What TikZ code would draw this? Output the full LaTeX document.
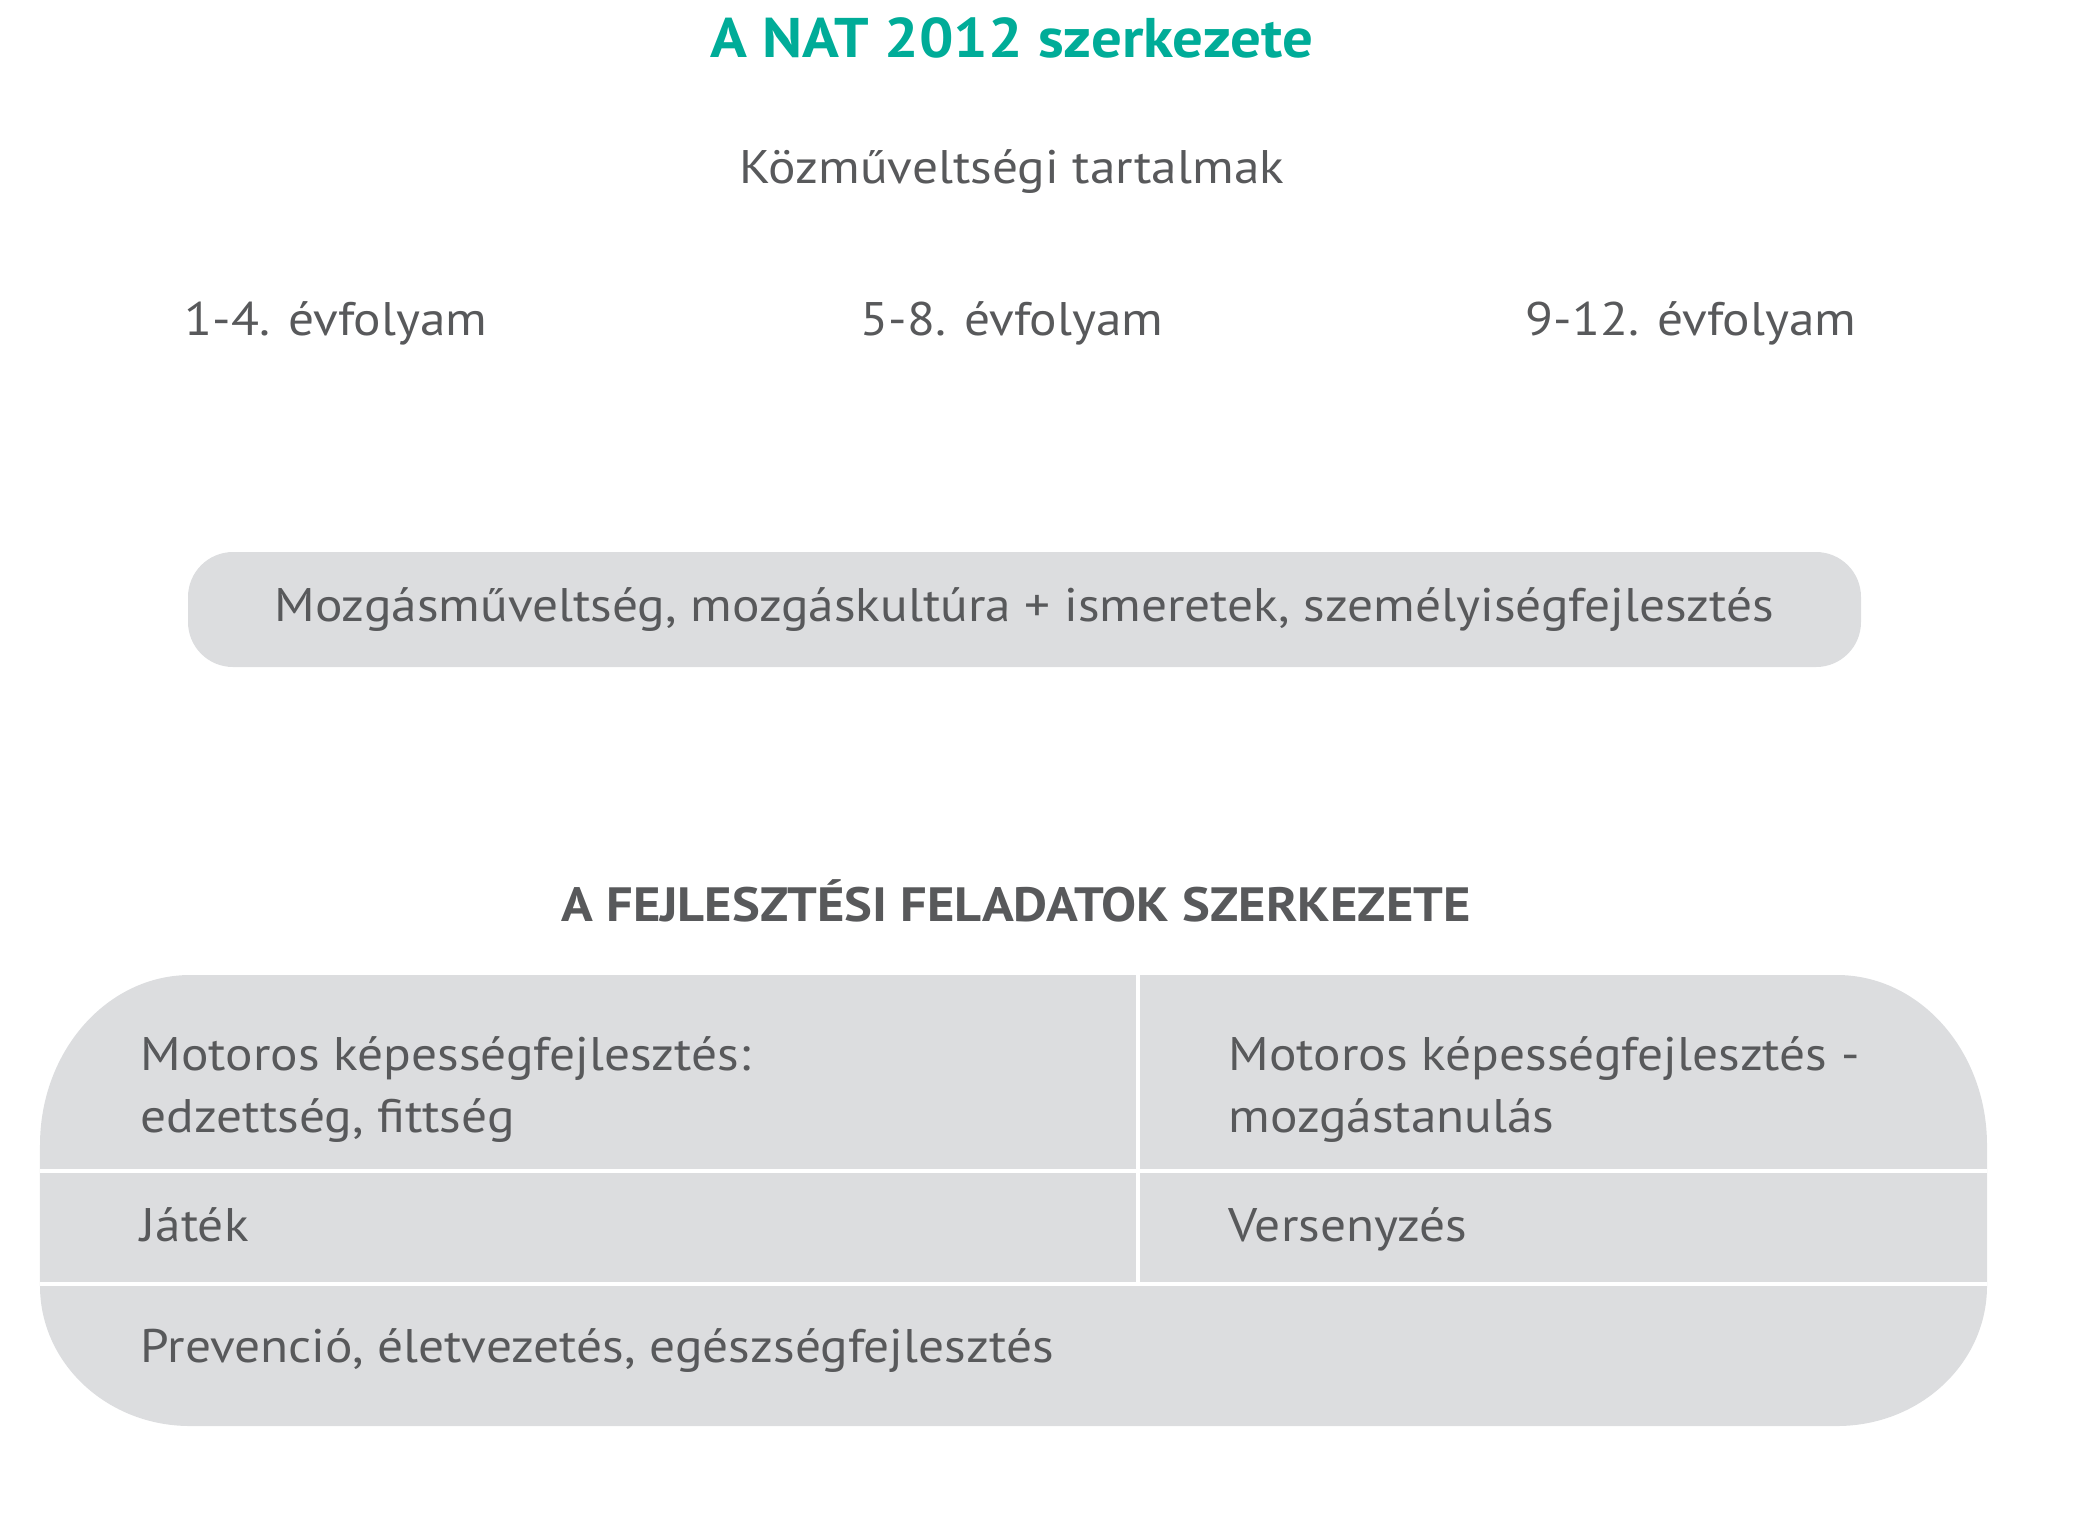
\documentclass[tikz,border=0pt]{standalone}
\usepackage{fontspec}
\setmainfont{PT Sans}[FakeStretch=1.09]
\definecolor{natteal}{RGB}{0,172,152}
\definecolor{natgray}{RGB}{88,89,91}
\definecolor{natbox}{RGB}{220,221,223}
\tikzset{
	plain/.style={text=natgray,font=\fontsize{13.4}{17.6}\selectfont,inner sep=0pt},
	leftcell/.style={plain,anchor=base west,align=left},
	pill/.style={fill=natbox,rounded corners=0.45cm,minimum width=16.73cm,minimum height=1.15cm,inner sep=0pt},
	rule/.style={white,line width=0.04cm}
}
\begin{document}
\begin{tikzpicture}
	\useasboundingbox (0,0) rectangle (20.81,-15.20);

	% titles
	\node[anchor=base,inner sep=0pt,text=natteal,font=\fontsize{15.9}{18}\selectfont\bfseries] (title) at (10.12,-0.57) {A NAT 2012 szerkezete};
	\node[plain,anchor=base] (common) at (10.12,-1.83) {Közműveltségi tartalmak};

	% grades
	\node[plain,anchor=base] (grade1) at (3.36,-3.35) {1-4. évfolyam};
	\node[plain,anchor=base] (grade2) at (10.12,-3.35) {5-8. évfolyam};
	\node[plain,anchor=base] (grade3) at (16.91,-3.35) {9-12. évfolyam};

	\node[pill,text=natgray,font=\fontsize{13.4}{17.6}\selectfont] (culture) at (10.245,-6.095) {Mozgásműveltség, mozgáskultúra + ismeretek, személyiségfejlesztés};

	\node[anchor=base,inner sep=0pt,text=natgray,font=\fontsize{13.7}{18}\selectfont\bfseries] (devhead) at (10.16,-9.21) {A FEJLESZTÉSI FELADATOK SZERKEZETE};

	% the big box
	\fill[natbox] (1.90,-9.75) -- (18.37,-9.75)
		arc[start angle=90,end angle=0,x radius=1.5,y radius=1.7] -- (19.87,-12.86)
		arc[start angle=0,end angle=-90,x radius=1.5,y radius=1.4] -- (1.90,-14.26)
		arc[start angle=270,end angle=180,x radius=1.5,y radius=1.4] -- (0.40,-11.45)
		arc[start angle=180,end angle=90,x radius=1.5,y radius=1.7] -- cycle;
	\draw[rule] (0.40,-11.71) -- (19.87,-11.71);
	\draw[rule] (0.40,-12.84) -- (19.87,-12.84);
	\draw[rule] (11.38,-9.75) -- (11.38,-12.84);

	\node[leftcell] (motor) at (1.40,-11.32) {Motoros képességfejlesztés:\\edzettség, fittség};
	\node[leftcell] (learn) at (12.28,-11.32) {Motoros képességfejlesztés -\\mozgástanulás};
	\node[leftcell] (game) at (1.40,-12.41) {Játék};
	\node[leftcell] (compete) at (12.28,-12.41) {Versenyzés};
	\node[leftcell] (health) at (1.40,-13.62) {Prevenció, életvezetés, egészségfejlesztés};
\end{tikzpicture}
\end{document}
